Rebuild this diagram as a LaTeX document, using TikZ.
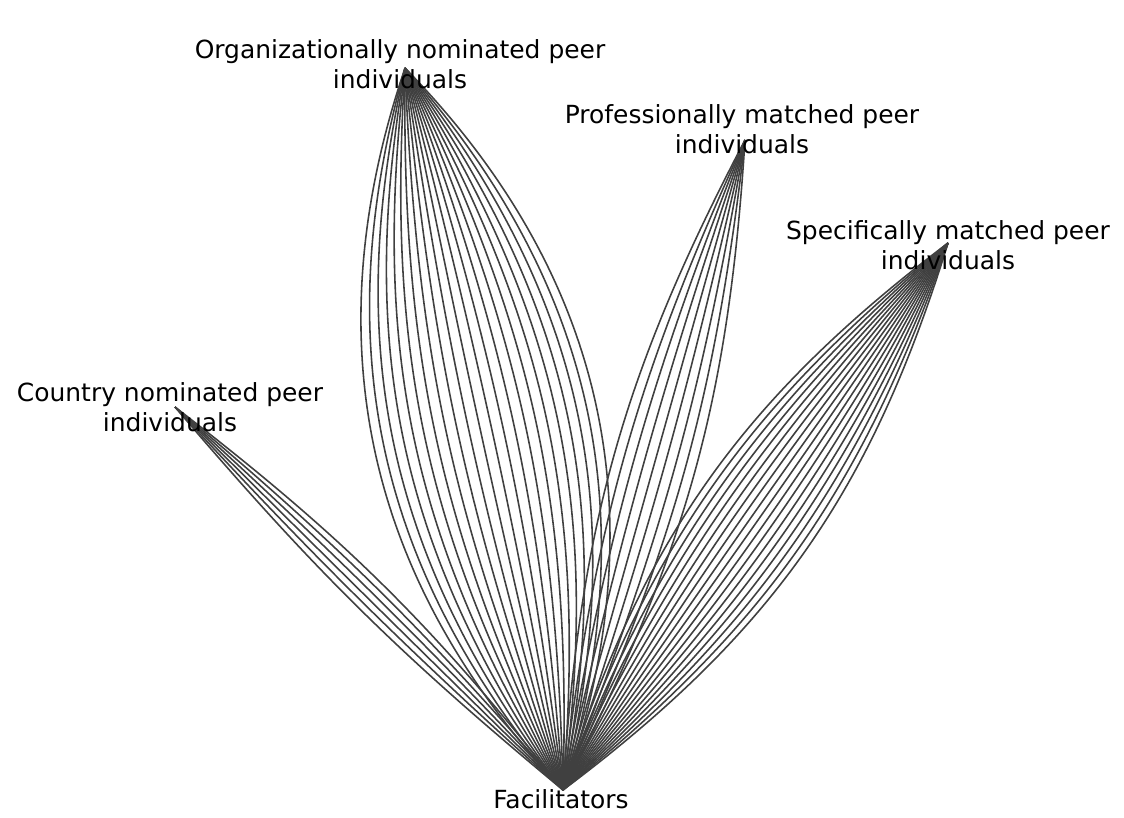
\documentclass[tikz,border=0pt]{standalone}
\usepackage{fontspec}
\setmainfont{DejaVu Sans}
\begin{document}
\begin{tikzpicture}[x=0.02cm, y=-0.02cm, every node/.style={align=center, inner sep=0pt, font=\fontsize{14.2}{17}\selectfont}, tie/.style={draw=black!75, line width=0.9pt}]
	\useasboundingbox (0,0) rectangle (1124,817);
	\coordinate (fac) at (563,790);
	\coordinate (cty) at (175,407);
	\coordinate (org) at (405,68);
	\coordinate (pro) at (745,140);
	\coordinate (spe) at (948,243);
	
	\foreach \b in {-7,-4.6,...,7.1} \draw[tie] (fac) to[bend left=\b] (cty);
	\foreach \b in {-32,-29,...,32.1} \draw[tie] (fac) to[bend left=\b] (org);
	\foreach \b in {-12,-9,...,12.1} \draw[tie] (fac) to[bend left=\b] (pro);
	\foreach \b in {-18,-15.9,...,18.1} \draw[tie] (fac) to[bend left=\b] (spe);
	
	\node (ctyl) at (170,407) {Country nominated peer\\individuals};
	\node (orgl) at (400,64) {Organizationally nominated peer\\individuals};
	\node (prol) at (742,129) {Professionally matched peer\\individuals};
	\node (spel) at (948,245) {Specifically matched peer\\individuals};
	\node (facl) at (561,799) {Facilitators};
\end{tikzpicture}
\end{document}
